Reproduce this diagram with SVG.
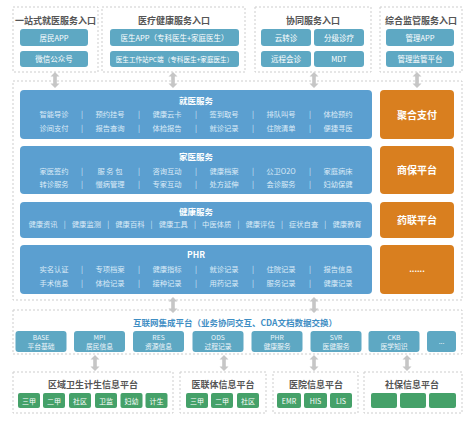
<svg xmlns="http://www.w3.org/2000/svg" xmlns:xlink="http://www.w3.org/1999/xlink" width="474" height="422" viewBox="0 0 474 422" font-family="'Noto Sans CJK SC', 'Noto Sans', sans-serif">
<style>
.dash{fill:none;stroke:#cdcdcd;stroke-width:1;stroke-dasharray:2 2}
.btn{fill:#5ea8c3}
.bt{fill:#ffffff;font-size:7.5px;text-anchor:middle}
.h{fill:#555555;font-weight:bold;font-size:9px;text-anchor:middle}
.blue{fill:#5b9fd0}
.org{fill:#d97f1f}
.st{fill:#ffffff;font-weight:bold;font-size:8.5px;text-anchor:middle}
.svc{fill:#dcebf7;font-size:7.3px;text-anchor:middle}
.ot{fill:#ffffff;font-weight:bold;font-size:10px;text-anchor:middle}
.ib{fill:#5ea8c3}
.it{fill:#eef6fa;font-size:6.8px;text-anchor:middle}
.green{fill:#45a169}
.gt{fill:#ffffff;font-size:7px;text-anchor:middle}
.ih{fill:#3f8ec4;font-weight:bold;font-size:8.5px;text-anchor:middle}
</style>
<defs>
<path id="arr" d="M0,-8 L4.5,-3.5 L1.8,-3.5 L1.8,3.5 L4.5,3.5 L0,8 L-4.5,3.5 L-1.8,3.5 L-1.8,-3.5 L-4.5,-3.5 Z" fill="#c6c6c6"/>
</defs>
<rect width="474" height="422" fill="#ffffff"/>

<!-- top entries -->
<g id="entry1">
<rect class="dash" x="13" y="7" width="85" height="65"/>
<text class="h" x="55.5" y="24">一站式就医服务入口</text>
<rect class="btn" x="20" y="29" width="68" height="17" rx="3"/>
<text class="bt" x="54" y="40.5">居民APP</text>
<rect class="btn" x="20" y="51" width="68" height="16" rx="3"/>
<text class="bt" x="54" y="62">微信公众号</text>
</g>
<g id="entry2">
<rect class="dash" x="102" y="7" width="143" height="65"/>
<text class="h" x="174" y="24">医疗健康服务入口</text>
<rect class="btn" x="110" y="29" width="129" height="17" rx="3"/>
<text class="bt" x="174.5" y="40.5">医生APP（专科医生+家庭医生）</text>
<rect class="btn" x="110" y="51" width="129" height="16" rx="3"/>
<text class="bt" x="174.5" y="62" style="font-size:6.6px">医生工作站PC端（专科医生+家庭医生）</text>
</g>
<g id="entry3">
<rect class="dash" x="255" y="7" width="116" height="65"/>
<text class="h" x="313" y="24">协同服务入口</text>
<rect class="btn" x="261" y="29" width="50" height="17" rx="3"/>
<text class="bt" x="286" y="40.5">云转诊</text>
<rect class="btn" x="314" y="29" width="50" height="17" rx="3"/>
<text class="bt" x="339" y="40.5">分级诊疗</text>
<rect class="btn" x="261" y="51" width="50" height="16" rx="3"/>
<text class="bt" x="286" y="62">远程会诊</text>
<rect class="btn" x="314" y="51" width="50" height="16" rx="3"/>
<text class="bt" x="339" y="62">MDT</text>
</g>
<g id="entry4">
<rect class="dash" x="380" y="7" width="82" height="65"/>
<text class="h" x="421" y="24">综合监管服务入口</text>
<rect class="btn" x="386" y="29" width="68" height="17" rx="3"/>
<text class="bt" x="420" y="40.5">管理APP</text>
<rect class="btn" x="386" y="51" width="68" height="16" rx="3"/>
<text class="bt" x="420" y="62">管理监管平台</text>
</g>

<!-- services -->
<rect class="dash" x="13" y="81" width="449" height="219"/>
<g id="jiuyi">
<rect class="blue" x="20" y="90" width="352" height="49" rx="4"/>
<text class="st" x="196" y="104">就医服务</text>
<g class="svc">
<text x="54" y="117">智能导诊</text><text x="110" y="117">预约挂号</text><text x="167" y="117">健康云卡</text><text x="224" y="117">签到取号</text><text x="281" y="117">排队叫号</text><text x="338" y="117">体检预约</text>
<text x="54" y="131">诊间支付</text><text x="110" y="131">报告查询</text><text x="167" y="131">体检报告</text><text x="224" y="131">就诊记录</text><text x="281" y="131">住院清单</text><text x="338" y="131">便捷寻医</text>
<text x="82" y="117">|</text><text x="139" y="117">|</text><text x="196" y="117">|</text><text x="253" y="117">|</text><text x="310" y="117">|</text>
<text x="82" y="131">|</text><text x="139" y="131">|</text><text x="196" y="131">|</text><text x="253" y="131">|</text><text x="310" y="131">|</text>
</g>
</g>
<g id="jiayi">
<rect class="blue" x="20" y="146" width="352" height="48" rx="4"/>
<text class="st" x="196" y="160">家医服务</text>
<g class="svc">
<text x="54" y="174">家医签约</text><text x="110" y="174">服 务 包</text><text x="167" y="174">咨询互动</text><text x="224" y="174">健康档案</text><text x="281" y="174">公卫O2O</text><text x="338" y="174">家庭病床</text>
<text x="54" y="187">转诊服务</text><text x="110" y="187">慢病管理</text><text x="167" y="187">专家互动</text><text x="224" y="187">处方延伸</text><text x="281" y="187">会诊服务</text><text x="338" y="187">妇幼保健</text>
<text x="82" y="174">|</text><text x="139" y="174">|</text><text x="196" y="174">|</text><text x="253" y="174">|</text><text x="310" y="174">|</text>
<text x="82" y="187">|</text><text x="139" y="187">|</text><text x="196" y="187">|</text><text x="253" y="187">|</text><text x="310" y="187">|</text>
</g>
</g>
<g id="jiankang">
<rect class="blue" x="20" y="202" width="352" height="36" rx="4"/>
<text class="st" x="196" y="215">健康服务</text>
<g class="svc">
<text x="43" y="227">健康资讯</text><text x="86.4" y="227">健康监测</text><text x="129.9" y="227">健康百科</text><text x="173.3" y="227">健康工具</text><text x="216.7" y="227">中医体质</text><text x="260.1" y="227">健康评估</text><text x="303.6" y="227">症状自查</text><text x="347" y="227">健康教育</text>
<text x="64.7" y="227">|</text><text x="108.2" y="227">|</text><text x="151.6" y="227">|</text><text x="195" y="227">|</text><text x="238.4" y="227">|</text><text x="281.9" y="227">|</text><text x="325.3" y="227">|</text>
</g>
</g>
<g id="phr">
<rect class="blue" x="20" y="245" width="352" height="49" rx="4"/>
<text class="st" x="196" y="258">PHR</text>
<g class="svc">
<text x="54" y="272">实名认证</text><text x="110" y="272">专项档案</text><text x="167" y="272">健康指标</text><text x="224" y="272">就诊记录</text><text x="281" y="272">住院记录</text><text x="338" y="272">报告信息</text>
<text x="54" y="286">手术信息</text><text x="110" y="286">体检记录</text><text x="167" y="286">接种记录</text><text x="224" y="286">用药记录</text><text x="281" y="286">服务记录</text><text x="338" y="286">健康记录</text>
<text x="82" y="272">|</text><text x="139" y="272">|</text><text x="196" y="272">|</text><text x="253" y="272">|</text><text x="310" y="272">|</text>
<text x="82" y="286">|</text><text x="139" y="286">|</text><text x="196" y="286">|</text><text x="253" y="286">|</text><text x="310" y="286">|</text>
</g>
</g>
<g id="pay"><rect class="org" x="380" y="90" width="74" height="49" rx="4"/><text class="ot" x="417" y="118.5">聚合支付</text></g>
<g id="insure"><rect class="org" x="380" y="146" width="74" height="48" rx="4"/><text class="ot" x="417" y="173.5">商保平台</text></g>
<g id="pharma"><rect class="org" x="380" y="202" width="74" height="36" rx="4"/><text class="ot" x="417" y="223.5">药联平台</text></g>
<g id="more"><rect class="org" x="380" y="245" width="74" height="49" rx="4"/><text class="ot" x="417" y="272" style="font-size:8px">......</text></g>

<!-- integration platform -->
<g id="integration">
<rect class="dash" x="13" y="310" width="449" height="44"/>
<text class="ih" x="235" y="326">互联网集成平台（业务协同交互、CDA文档数据交换）</text>
<rect class="ib" x="15.5" y="331" width="51" height="21" rx="3"/><text class="it" x="41" y="340">BASE</text><text class="it" x="41" y="349">平台基础</text>
<rect class="ib" x="74" y="331" width="51" height="21" rx="3"/><text class="it" x="99.5" y="340">MPI</text><text class="it" x="99.5" y="349">居民信息</text>
<rect class="ib" x="133" y="331" width="51" height="21" rx="3"/><text class="it" x="158.5" y="340">RES</text><text class="it" x="158.5" y="349">资源信息</text>
<rect class="ib" x="192.5" y="331" width="51" height="21" rx="3"/><text class="it" x="218" y="340">ODS</text><text class="it" x="218" y="349">过程记录</text>
<rect class="ib" x="251.5" y="331" width="51" height="21" rx="3"/><text class="it" x="277" y="340">PHR</text><text class="it" x="277" y="349">健康服务</text>
<rect class="ib" x="310.5" y="331" width="51" height="21" rx="3"/><text class="it" x="336" y="340">SVR</text><text class="it" x="336" y="349">医健服务</text>
<rect class="ib" x="368.5" y="331" width="51" height="21" rx="3"/><text class="it" x="394" y="340">CKB</text><text class="it" x="394" y="349">医学知识</text>
<rect class="ib" x="427" y="331" width="29" height="21" rx="3"/><text class="it" x="441.5" y="344">...</text>
</g>

<!-- bottom platforms -->
<g id="regional">
<rect class="dash" x="13" y="372" width="160" height="41"/>
<text class="h" x="93" y="388">区域卫生计生信息平台</text>
<rect class="green" x="18" y="393" width="22" height="15" rx="2"/><text class="gt" x="29" y="403.5">三甲</text>
<rect class="green" x="43" y="393" width="22" height="15" rx="2"/><text class="gt" x="54" y="403.5">二甲</text>
<rect class="green" x="69" y="393" width="22" height="15" rx="2"/><text class="gt" x="80" y="403.5">社区</text>
<rect class="green" x="95" y="393" width="22" height="15" rx="2"/><text class="gt" x="106" y="403.5">卫监</text>
<rect class="green" x="120.5" y="393" width="22" height="15" rx="2"/><text class="gt" x="131.5" y="403.5">妇幼</text>
<rect class="green" x="145.5" y="393" width="22" height="15" rx="2"/><text class="gt" x="156.5" y="403.5">计生</text>
</g>
<g id="alliance">
<rect class="dash" x="180" y="372" width="86" height="41"/>
<text class="h" x="223" y="388">医联体信息平台</text>
<rect class="green" x="186" y="393" width="22" height="15" rx="2"/><text class="gt" x="197" y="403.5">三甲</text>
<rect class="green" x="211" y="393" width="22" height="15" rx="2"/><text class="gt" x="222" y="403.5">二甲</text>
<rect class="green" x="237" y="393" width="22" height="15" rx="2"/><text class="gt" x="248" y="403.5">社区</text>
</g>
<g id="hospital">
<rect class="dash" x="273" y="372" width="85" height="41"/>
<text class="h" x="316" y="388">医院信息平台</text>
<rect class="green" x="277" y="393" width="24" height="15" rx="2"/><text class="gt" x="289" y="403.5">EMR</text>
<rect class="green" x="304" y="393" width="23" height="15" rx="2"/><text class="gt" x="315.5" y="403.5">HIS</text>
<rect class="green" x="330" y="393" width="22" height="15" rx="2"/><text class="gt" x="341" y="403.5">LIS</text>
</g>
<g id="social">
<rect class="dash" x="364" y="372" width="98" height="41"/>
<text class="h" x="412" y="388">社保信息平台</text>
<rect class="green" x="371" y="393" width="26" height="15" rx="2"/>
<rect class="green" x="400" y="393" width="26" height="15" rx="2"/>
<rect class="green" x="429" y="393" width="27" height="15" rx="2"/>
</g>

<!-- connectors -->
<g id="connectors">
<use xlink:href="#arr" x="55" y="80"/>
<use xlink:href="#arr" x="173" y="80"/>
<use xlink:href="#arr" x="314" y="80"/>
<use xlink:href="#arr" x="417" y="80"/>
<use xlink:href="#arr" x="173" y="305"/>
<use xlink:href="#arr" x="314" y="305"/>
<use xlink:href="#arr" x="95" y="363"/>
<use xlink:href="#arr" x="224" y="363"/>
<use xlink:href="#arr" x="314" y="363"/>
<use xlink:href="#arr" x="407" y="363"/>
</g>
</svg>
